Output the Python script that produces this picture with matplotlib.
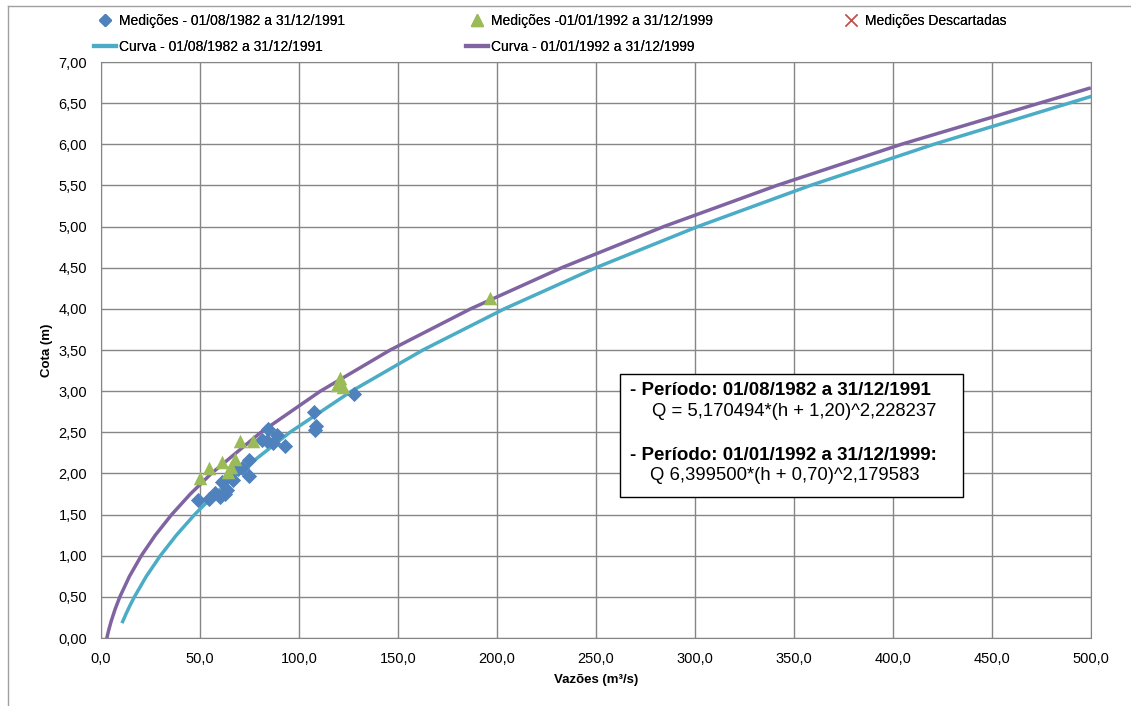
import matplotlib
matplotlib.use("Agg")
import matplotlib.pyplot as plt
from matplotlib.lines import Line2D

plt.rcParams['font.family'] = ['Liberation Sans', 'DejaVu Sans']

# medições 01/08/1982 a 31/12/1991 (vazão m3/s, cota m)
q_med1 = [49.1, 54.5, 60.1, 61.0, 63.5, 66.8, 69.3, 74.7, 74.9, 81.1, 84.5,
          89.0, 83.7, 87.0, 92.9, 107.6, 108.6, 108.1, 127.8, 57.5, 62.5, 71.0]
h_med1 = [1.68, 1.69, 1.71, 1.90, 1.80, 1.92, 2.05, 2.16, 1.97, 2.41, 2.54,
          2.47, 2.39, 2.37, 2.33, 2.75, 2.58, 2.53, 2.97, 1.76, 1.75, 2.07]

# medições 01/01/1992 a 31/12/1999
q_med2 = [50.0, 54.5, 61.3, 64.0, 67.7, 70.2, 76.9, 65.5, 119.0, 120.7, 122.4, 196.5]
h_med2 = [1.94, 2.06, 2.14, 2.02, 2.18, 2.39, 2.39, 2.08, 3.07, 3.16, 3.05, 4.13]

# curva-chave 1982-1991: Q = 5,170494*(h + 1,20)^2,228237
h_c1 = [0.2, 0.3, 0.4, 0.5, 0.75, 1.0, 1.25, 1.5, 1.75, 2.0, 2.5, 3.0, 3.5,
        4.0, 4.5, 5.0, 5.5, 6.0, 6.58]
q_c1 = [10.94, 12.76, 14.74, 16.87, 22.90, 29.96, 38.08, 47.28, 57.59, 69.05,
        95.42, 126.56, 162.60, 203.69, 249.92, 301.41, 358.28, 420.60, 499.86]

# curva-chave 1992-1999: Q = 6,399500*(h + 0,70)^2,179583
h_c2 = [0.0, 0.1, 0.2, 0.35, 0.5, 0.75, 1.0, 1.25, 1.5, 1.75, 2.0, 2.5, 3.0,
        3.5, 4.0, 4.5, 5.0, 5.5, 6.0, 6.68]
q_c2 = [2.94, 3.94, 5.09, 7.12, 9.52, 14.38, 20.34, 27.44, 35.69, 45.12, 55.76,
        80.75, 110.81, 146.08, 186.65, 232.67, 284.21, 341.37, 404.24, 499.05]

x_ticks = [0, 50, 100, 150, 200, 250, 300, 350, 400, 450, 500]
y_ticks = [0, 0.5, 1, 1.5, 2, 2.5, 3, 3.5, 4, 4.5, 5, 5.5, 6, 6.5, 7]

c_blue = '#4F81BD'
c_green = '#9BBB59'
c_red = '#C0504D'
c_cyan = '#4BACC6'
c_purple = '#8064A2'
c_grid = '#868686'

W, H = 1131, 706
fig = plt.figure(figsize=(W / 100, H / 100), dpi=100)
ax = fig.add_axes([101 / W, 1 - 638 / H, 990 / W, 576 / H])

ax.plot(q_c1, h_c1, color=c_cyan, lw=2.5, zorder=3)
ax.plot(q_c2, h_c2, color=c_purple, lw=2.5, zorder=3)
ax.scatter(q_med1, h_med1, marker='D', s=60, color=c_blue, zorder=4, linewidths=0)
ax.scatter(q_med2, h_med2, marker='^', s=95, color=c_green, zorder=4, linewidths=0)

ax.set_xlim(0, 500)
ax.set_ylim(0, 7)
ax.set_xticks(x_ticks)
ax.set_yticks(y_ticks)
ax.set_xticklabels([f"{v:.1f}".replace('.', ',') for v in x_ticks])
ax.set_yticklabels([f"{v:.2f}".replace('.', ',') for v in y_ticks])
ax.tick_params(length=0, labelsize=10.5, pad=10)
ax.grid(True, color=c_grid, lw=1)
ax.set_axisbelow(True)
for s in ax.spines.values():
    s.set_color(c_grid)

ax.set_xlabel('Vazões (m³/s)', fontsize=9.5, fontweight='bold', labelpad=6)
ax.set_ylabel('Cota (m)', fontsize=9.5, fontweight='bold', labelpad=4)

# caixa com as equações
box = plt.Rectangle((620 / W, 1 - 497 / H), 343 / W, 123 / H,
                    transform=fig.transFigure, facecolor='white',
                    edgecolor='black', lw=1, zorder=5)
fig.patches.append(box)
fig.text(630 / W, 1 - 391 / H, '- Período: 01/08/1982 a 31/12/1991',
         fontsize=13.5, fontweight='bold', va='center', zorder=6)
fig.text(652 / W, 1 - 411 / H, 'Q = 5,170494*(h + 1,20)^2,228237',
         fontsize=13.3, va='center', zorder=6)
fig.text(630 / W, 1 - 455 / H, '- Período: 01/01/1992 a 31/12/1999:',
         fontsize=13.5, fontweight='bold', va='center', zorder=6)
fig.text(650 / W, 1 - 476 / H, 'Q 6,399500*(h + 0,70)^2,179583',
         fontsize=13.3, va='center', zorder=6)

# legenda
entries = [
    (Line2D([], [], marker='D', ls='', color=c_blue, markersize=6),
     'Medições - 01/08/1982 a 31/12/1991', 94, 21),
    (Line2D([], [], marker='^', ls='', color=c_green, markersize=8),
     'Medições -01/01/1992 a 31/12/1999', 466, 21),
    (Line2D([], [], marker='x', ls='', color=c_red, markersize=8),
     'Medições Descartadas', 840, 21),
    (Line2D([], [], color=c_cyan, lw=3),
     'Curva - 01/08/1982 a 31/12/1991', 94, 47),
    (Line2D([], [], color=c_purple, lw=3),
     'Curva - 01/01/1992 a 31/12/1999', 466, 47),
]
for h, lab, px, py in entries:
    lg = fig.legend(handles=[h], labels=[lab], loc='center left',
                    bbox_to_anchor=(px / W, 1 - py / H), frameon=False,
                    fontsize=10, handlelength=1.6, handletextpad=0.2,
                    borderpad=0, borderaxespad=0)
    fig.add_artist(lg)

# moldura do gráfico
fig.add_artist(Line2D([8 / W, 1], [1 - 6 / H, 1 - 6 / H],
                      transform=fig.transFigure, color='#A0A0A0', lw=1))
fig.add_artist(Line2D([8 / W, 8 / W], [0, 1 - 6 / H],
                      transform=fig.transFigure, color='#A0A0A0', lw=1))

fig.savefig('out.png', dpi=100)
